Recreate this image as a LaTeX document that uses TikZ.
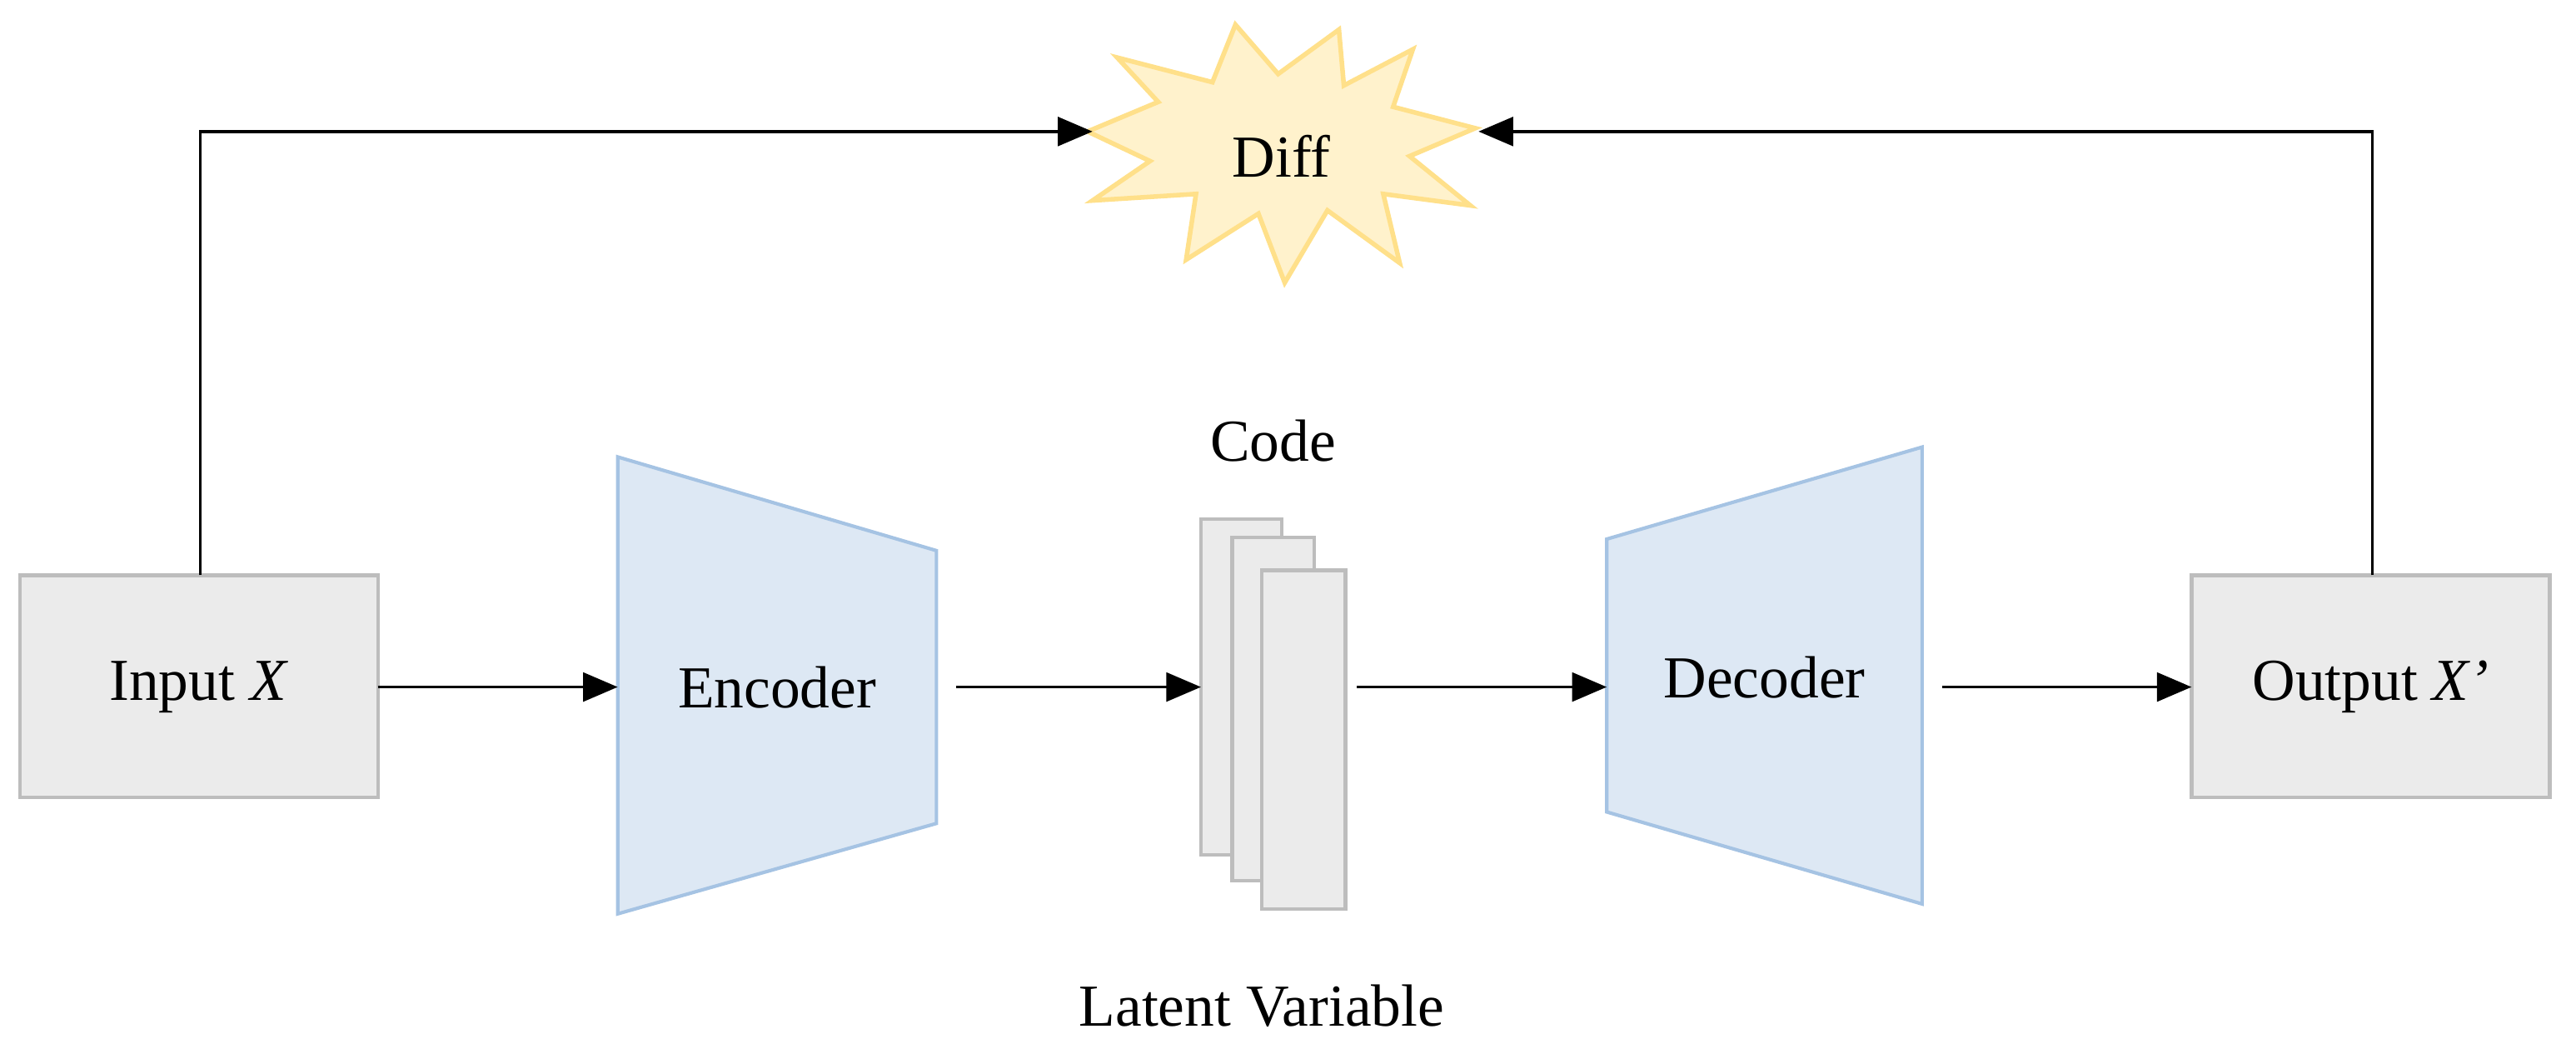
\documentclass[tikz,border=0pt]{standalone}
\usepackage{fontspec}
\setmainfont{Liberation Serif}
\usetikzlibrary{arrows.meta}
\definecolor{boxfill}{HTML}{EBEBEB}
\definecolor{boxline}{HTML}{BDBDBD}
\definecolor{trapfill}{HTML}{DDE8F4}
\definecolor{trapline}{HTML}{A5C3E3}
\definecolor{starfill}{HTML}{FFF2CC}
\definecolor{starline}{HTML}{FFE08A}
\begin{document}
\begin{tikzpicture}[x=0.01cm,y=-0.01cm,
  lbl/.style={font=\fontsize{10.3}{12}\selectfont},
  box/.style={draw=boxline,fill=boxfill,line width=0.6pt},
  trap/.style={draw=trapline,fill=trapfill,line width=0.6pt},
  arr/.style={-{Triangle[length=6pt,width=5pt]},line width=0.5pt}]
\useasboundingbox (0,0) rectangle (1568,641);
% boxes
\draw[box] (12,350) rectangle (230,485);
\node[lbl] (in) at (121,418) {Input \textit{X}};
\coordinate (inR) at (230,418); \coordinate (inT) at (122,350);
\draw[box] (1334,350) rectangle (1552,485);
\node[lbl] (out) at (1443,418) {Output \textit{X’}};
\coordinate (outL) at (1334,418); \coordinate (outT) at (1444,350);
% encoder / decoder
\draw[trap] (376,278) -- (570,335) -- (570,501) -- (376,556) -- cycle;
\node[lbl] (enc) at (473,418) {Encoder};
\draw[trap] (978,328) -- (1170,272) -- (1170,550) -- (978,494) -- cycle;
\node[lbl] (dec) at (1074,412) {Decoder};
\coordinate (encL) at (376,418); \coordinate (encR) at (582,418);
\coordinate (decL) at (978,418); \coordinate (decR) at (1182,418);
% code stack
\draw[box] (731,316) rectangle (780,520);
\draw[box] (750,327) rectangle (800,536);
\draw[box] (768,347) rectangle (819,553);
\coordinate (codeL) at (731,418); \coordinate (codeR) at (826,418);
\node[lbl] (code) at (775,268) {Code};
\node[lbl] (lat) at (768,612) {Latent Variable};
% star
\draw[fill=starfill,draw=starline,line width=0.8pt]
 (662,80) -- (705,62) -- (680,35) -- (738,50) -- (752,15) -- (778,45) -- (815,18)
 -- (818,52) -- (860,30) -- (848,65) -- (898,78) -- (858,95) -- (895,125)
 -- (842,118) -- (852,160) -- (808,128) -- (782,172) -- (766,130) -- (722,158)
 -- (728,118) -- (665,122) -- (700,98) -- cycle;
\node[lbl] (diff) at (780,95) {Diff};
\coordinate (starL) at (665,80); \coordinate (starR) at (900,80);
% arrows
\draw[arr] (inR) -- (encL);
\draw[arr] (encR) -- (codeL);
\draw[arr] (codeR) -- (decL);
\draw[arr] (decR) -- (outL);
\draw[arr] (inT) |- (starL);
\draw[arr] (outT) |- (starR);
\end{tikzpicture}
\end{document}
